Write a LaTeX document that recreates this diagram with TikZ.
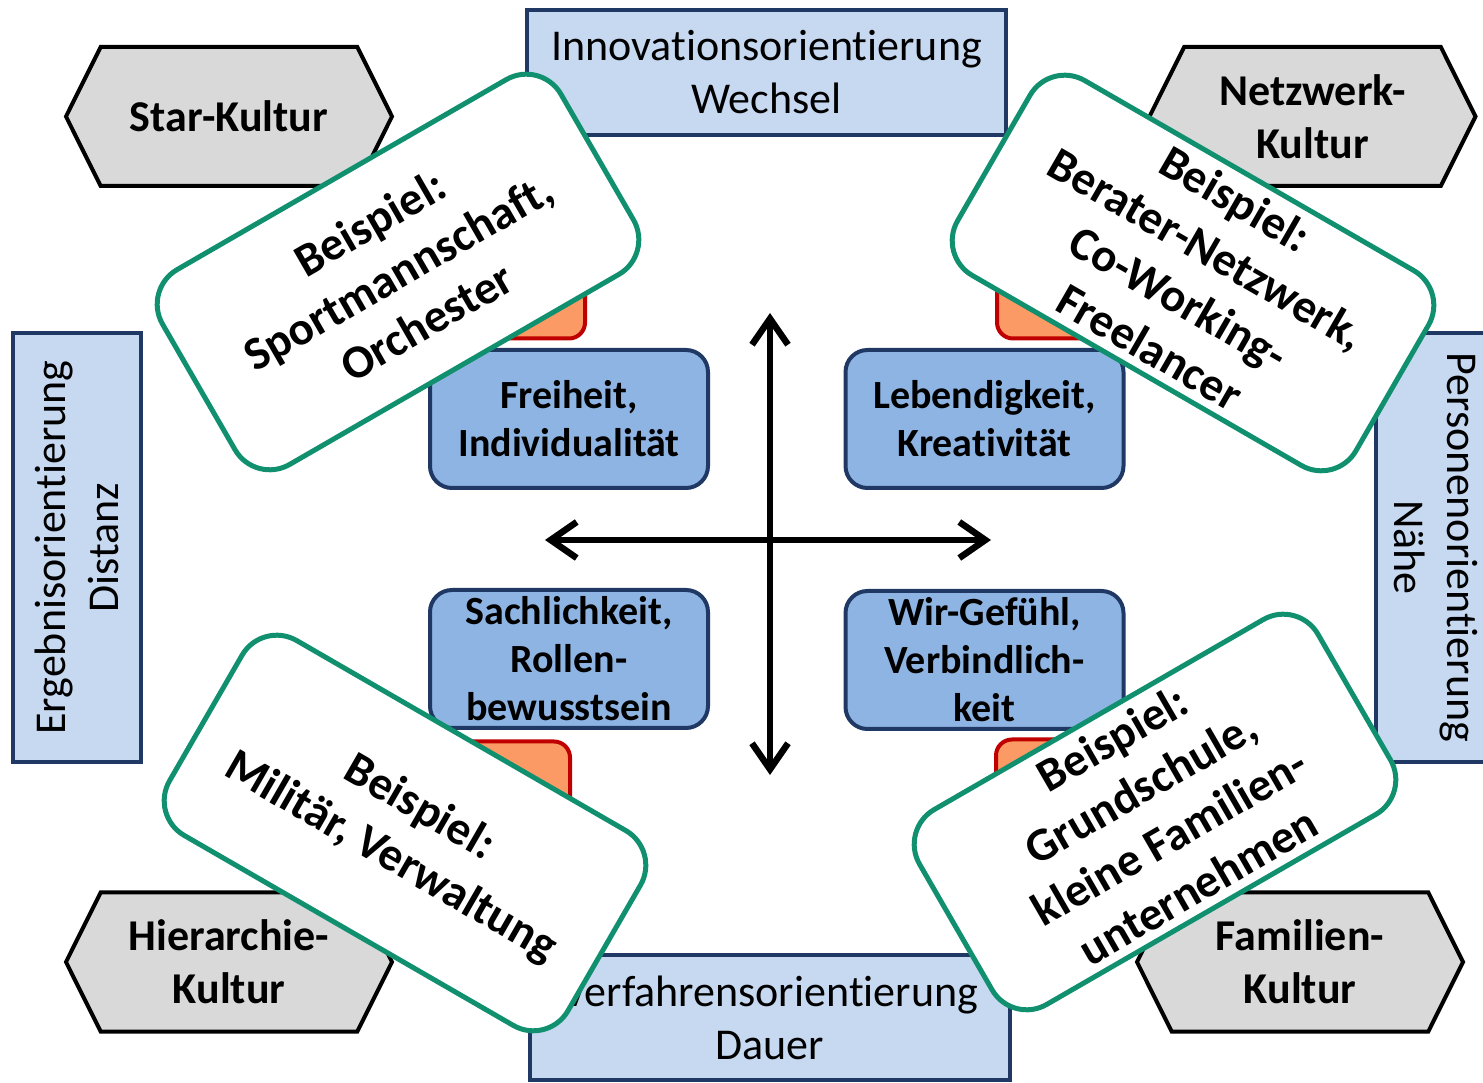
\documentclass[tikz,border=0pt]{standalone}
\usepackage{fontspec}
\setmainfont{Carlito}[Ligatures=NoCommon]
\usetikzlibrary{shapes.symbols,arrows.meta}

\definecolor{axisfill}{HTML}{C6D9F1}
\definecolor{navy}{HTML}{1F3864}
\definecolor{valuefill}{HTML}{8EB4E3}
\definecolor{hexfill}{HTML}{D9D9D9}
\definecolor{tagfill}{HTML}{FB9A64}
\definecolor{tagline}{HTML}{C00000}
\definecolor{cardline}{HTML}{10906E}

\begin{document}
\begin{tikzpicture}[x=1pt, y=1pt,
    >={Straight Barb[length=26pt,width=36pt]},
    axisbox/.style={draw=navy, fill=axisfill, line width=4pt, align=center, inner sep=0pt,
        font=\fontsize{44}{53}\selectfont},
    culture/.style={signal, signal to=west and east, signal pointer angle=127,
        draw=black, fill=hexfill, line width=4pt, minimum width=326pt, minimum height=139pt,
        align=center, inner sep=0pt, font=\bfseries\fontsize{44}{53}\selectfont},
    valuebox/.style={draw=navy, fill=valuefill, line width=4pt, rounded corners=22pt,
        minimum width=278pt, minimum height=138pt, align=center, inner sep=0pt,
        font=\bfseries\fontsize{40}{48}\selectfont},
    tagbox/.style={draw=tagline, fill=tagfill, line width=4pt, rounded corners=16pt,
        minimum width=120pt, minimum height=95pt},
    examplecard/.style={draw=cardline, fill=white, line width=5pt, rounded corners=40pt,
        minimum width=460pt, minimum height=225pt, align=center, inner sep=0pt,
        font=\bfseries\fontsize{47}{57}\selectfont}]
    \useasboundingbox (0,0) rectangle (1483,1082);
    \clip (0,0) rectangle (1483,1082);

    % axes boxes
    \node[axisbox, minimum width=479pt, minimum height=125pt] (innovation) at (766.5,1009.5) {Innovationsorientierung\\Wechsel};
    \node[axisbox, minimum width=480pt, minimum height=125pt] (procedure) at (770,64.5) {Verfahrensorientierung\\Dauer};
    \node[axisbox, rotate=90, minimum width=429pt, minimum height=128pt] (result) at (77,534.5) {Ergebnisorientierung\\Distanz};
    \node[axisbox, rotate=-90, minimum width=429pt, minimum height=120pt] (person) at (1436,534.5) {Personenorientierung\\Nähe};

    % cultures
    \node[culture] (star) at (229,965.5) {Star-Kultur};
    \node[culture] (network) at (1312.5,965.5) {Netzwerk-\\Kultur};
    \node[culture] (hierarchy) at (229,120) {Hierarchie-\\Kultur};
    \node[culture] (family) at (1300,120) {Familien-\\Kultur};

    % small tags
    \node[tagbox] (tagUL) at (525,791) {};
    \node[tagbox] (tagUR) at (1057,791) {};
    \node[tagbox] (tagLL) at (510,293) {};
    \node[tagbox] (tagLR) at (1056,295) {};

    % values
    \node[valuebox] (freedom) at (569,663) {Freiheit,\\Individualität};
    \node[valuebox] (liveliness) at (984.5,663) {Lebendigkeit,\\Kreativität};
    \node[valuebox] (objectivity) at (569,423) {Sachlichkeit,\\Rollen-\\bewusstsein};
    \node[valuebox] (wefeeling) at (984.5,422) {Wir-Gefühl,\\Verbindlich-\\keit};

    % cross
    \coordinate (north) at (770,769);
    \coordinate (south) at (770,307);
    \coordinate (west) at (545,542);
    \coordinate (east) at (991,542);
    \draw[<->, line width=6.5pt] (north) -- (south);
    \draw[<->, line width=6.5pt] (west) -- (east);

    % examples
    \node[examplecard, rotate=30] (exUL) at (398,810) {Beispiel:\\Sportmannschaft,\\Orchester};
    \node[examplecard, rotate=-30] (exUR) at (1193,809) {Beispiel:\\Berater-Netzwerk,\\Co-Working-\\Freelancer};
    \node[examplecard, rotate=-30] (exLL) at (405,249) {Beispiel:\\Militär, Verwaltung};
    \node[examplecard, rotate=30] (exLR) at (1155,270) {Beispiel:\\Grundschule,\\kleine Familien-\\unternehmen};
\end{tikzpicture}
\end{document}
